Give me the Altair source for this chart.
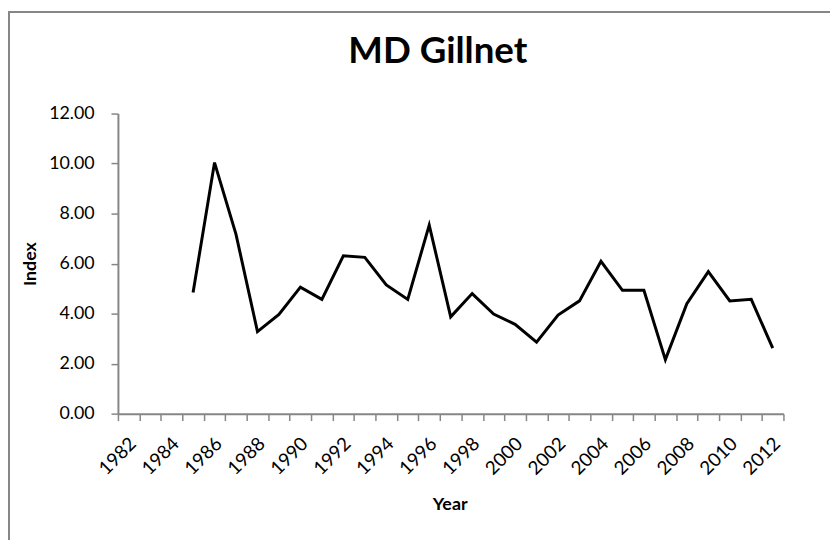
import altair as alt
import pandas as pd

years = list(range(1985, 2013))
index_values = [4.84, 10.04, 7.17, 3.28, 3.97, 5.06, 4.57, 6.31, 6.25, 5.15,
                4.57, 7.54, 3.87, 4.80, 3.98, 3.57, 2.86, 3.94, 4.51, 6.09,
                4.93, 4.93, 2.16, 4.40, 5.68, 4.51, 4.57, 2.62]

df = pd.DataFrame({"Year": years, "Index": index_values})

tick_vals = [y + 0.5 for y in range(1981, 2013)] + list(range(1982, 2013, 2))

FONT = "Lato"
GRAY = "#868686"
W, H = 672, 303

line = alt.Chart(df).mark_line(color="black", strokeWidth=3).encode(
    x=alt.X("Year:Q",
            scale=alt.Scale(domain=[1981.5, 2012.5], nice=False, zero=False),
            axis=alt.Axis(values=tick_vals, title="Year", grid=False,
                          labelExpr="datum.value % 2 === 0 ? datum.value : ''",
                          labelAngle=-45, labelAlign="right", labelBaseline="middle",
                          labelOverlap=False, labelFlush=False, labelPadding=20,
                          labelOffset=4,
                          labelFontSize=19, labelFont=FONT, labelColor="black",
                          tickOpacity={"condition": {"test": "datum.value % 1 !== 0", "value": 1}, "value": 0},
                          tickSize=7, tickColor=GRAY, tickWidth=1.5,
                          domainColor=GRAY, domainWidth=2,
                          titleFont=FONT, titleFontSize=18, titleFontWeight="bold",
                          titleColor="black", titlePadding=18, titleX=335)),
    y=alt.Y("Index:Q",
            scale=alt.Scale(domain=[0, 12], nice=False),
            axis=alt.Axis(values=[0, 2, 4, 6, 8, 10, 12], format=".2f", grid=False,
                          title="Index", labelFontSize=18, labelFont=FONT,
                          labelColor="black", labelPadding=17,
                          tickSize=7, tickColor=GRAY, tickWidth=1.5,
                          domainColor=GRAY, domainWidth=2,
                          titleFont=FONT, titleFontSize=18, titleFontWeight="bold",
                          titleColor="black", titlePadding=9)),
)

border = alt.Chart(pd.DataFrame({"a": [0]})).mark_rect(
    fill=None, stroke=GRAY, strokeWidth=2
).encode(
    x=alt.value(-110), x2=alt.value(W + 80),
    y=alt.value(-102.5), y2=alt.value(H + 160),
)

chart = alt.layer(border, line).properties(
    width=W, height=H,
    background="white",
    title=alt.TitleParams("MD Gillnet", font=FONT, fontSize=37, fontWeight="bold",
                          color="black", anchor="middle", dx=-13, offset=0, dy=60),
    autosize=alt.AutoSizeParams(type="none"),
    padding={"left": 111, "top": 104, "right": 47, "bottom": 125},
).configure_view(stroke="transparent", strokeWidth=0)

chart.save("out.html", embed_options={"renderer": "svg", "actions": False})
